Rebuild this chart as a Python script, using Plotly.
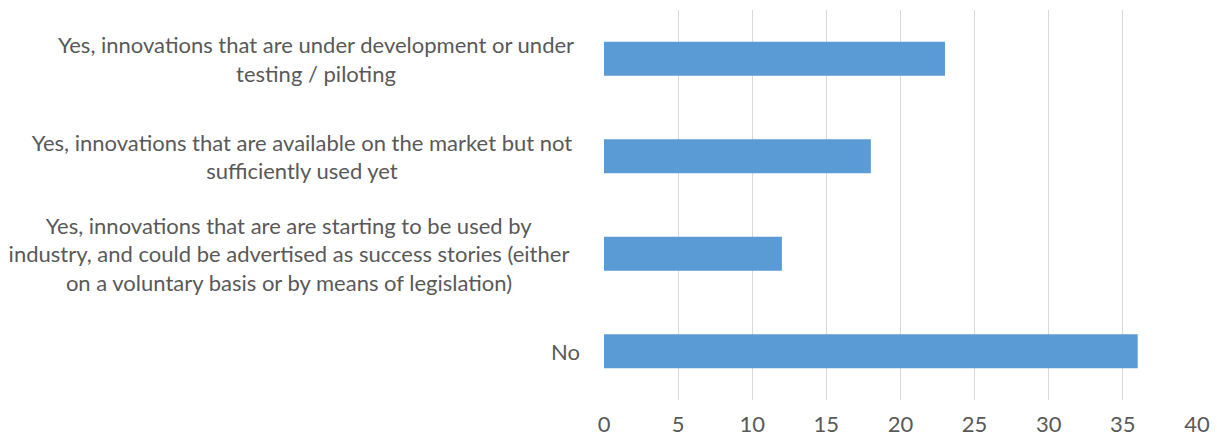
import plotly.graph_objects as go

# Survey answers (top to bottom) and number of respondents
categories = [
    "Yes, innovations that are under development or under<br>testing / piloting",
    "Yes, innovations that are available on the market but not<br>sufficiently used yet",
    "Yes, innovations that are are starting to be used by<br>industry, and could be advertised as success stories (either<br>on a voluntary basis or by means of legislation)",
    "No",
]
values = [23, 18, 12, 36]
x_ticks = [0, 5, 10, 15, 20, 25, 30, 35, 40]

FONT = "Lato"
TEXT_COLOR = "#595959"
FONT_SIZE = 22
LINE_GAP = 28.5
# width of the box each multi-line label is centred in (None = single line)
LABEL_BOX = [528, 556, 582, None]

fig = go.Figure(
    go.Bar(
        x=values,
        y=categories,
        orientation="h",
        marker=dict(color="#5B9BD5", line=dict(width=0)),
        hoverinfo="x+y",
    )
)

# Category labels: each line placed separately so the line spacing can be set,
# lines centred within a box that ends just left of the plot area.
annotations = []
for cat, box_w in zip(categories, LABEL_BOX):
    lines = cat.split("<br>")
    n = len(lines)
    for i, line in enumerate(lines):
        ann = dict(
            x=0, xref="paper",
            y=cat, yref="y",
            text=line,
            showarrow=False,
            xanchor="right", yanchor="middle",
            align="center",
            xshift=-22,
            yshift=-(i - (n - 1) / 2) * LINE_GAP,
            font=dict(family=FONT, size=FONT_SIZE, color=TEXT_COLOR),
        )
        if box_w:
            ann["width"] = box_w
        annotations.append(ann)

fig.update_layout(
    width=1217, height=440,
    margin=dict(l=604, r=20, t=10, b=40, autoexpand=False),
    paper_bgcolor="white", plot_bgcolor="white",
    bargap=0.65,
    showlegend=False,
    annotations=annotations,
    xaxis=dict(
        range=[0, 40],
        tickvals=x_ticks,
        showgrid=True, gridcolor="#D9D9D9", gridwidth=1,
        zeroline=False, showline=False,
        ticks="", ticklen=0,
        ticklabelstandoff=9,
        automargin=False,
        tickfont=dict(family=FONT, size=FONT_SIZE, color=TEXT_COLOR),
        fixedrange=True,
    ),
    yaxis=dict(
        categoryorder="array", categoryarray=categories,
        autorange="reversed",
        showticklabels=False,
        showgrid=False, zeroline=False, showline=False,
        ticks="",
        automargin=False,
        fixedrange=True,
    ),
)

fig.write_html("out.html")
